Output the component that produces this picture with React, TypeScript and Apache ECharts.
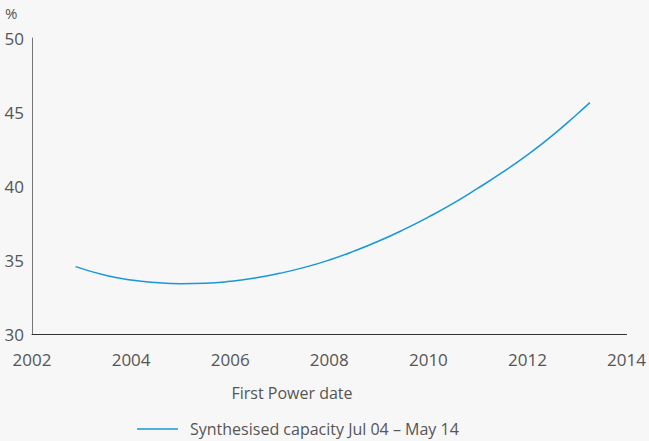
import React, { useEffect, useRef } from "react";
import * as echarts from "echarts";

const years = [2002.88, 2003.5, 2004.0, 2004.5, 2005.0, 2005.5, 2006.0, 2006.5, 2007.0, 2007.5, 2008.0, 2008.5, 2009.0, 2009.5, 2010.0, 2010.5, 2011.0, 2011.5, 2012.0, 2012.5, 2013.0, 2013.26];
const values = [34.55, 33.95, 33.65, 33.48, 33.4, 33.43, 33.56, 33.78, 34.1, 34.5, 35.0, 35.6, 36.28, 37.05, 37.9, 38.82, 39.85, 40.93, 42.1, 43.4, 44.85, 45.63];
const seriesName = "Synthesised capacity Jul 04 \u2013 May 14";
const xTitle = "First Power date";
const yUnit = "%";

const FONT = "'Open Sans', 'Noto Sans', sans-serif";
const TEXT = "#555555";
const LINE = "#1798d8";

export default function App() {
  const ref = useRef<HTMLDivElement>(null);
  useEffect(() => {
    if (!ref.current) return;
    const chart = echarts.init(ref.current, undefined, { renderer: "svg" });
    chart.setOption({
      animation: false,
      backgroundColor: "#f7f7f7",
      textStyle: { fontFamily: FONT },
      grid: { left: 32, right: 18, top: 38, bottom: 107, containLabel: false },
      xAxis: {
        type: "value",
        min: 2002,
        max: 2014,
        interval: 2,
        axisLine: { show: true, lineStyle: { color: "#333333", width: 1 } },
        axisTick: { show: false },
        splitLine: { show: false },
        axisLabel: {
          color: TEXT,
          fontSize: 17,
          margin: 17,
          fontFamily: FONT,
          formatter: (v: number) => String(v),
        },
      },
      yAxis: {
        type: "value",
        min: 30,
        max: 50,
        interval: 5,
        axisLine: { show: true, lineStyle: { color: "#777777", width: 1 } },
        axisTick: { show: false },
        splitLine: { show: false },
        axisLabel: { color: TEXT, fontSize: 17, margin: 8, fontFamily: FONT },
      },
      legend: {
        show: true,
        left: 132,
        top: 416,
        icon: "rect",
        itemWidth: 41,
        itemHeight: 1.5,
        itemStyle: { color: LINE },
        textStyle: { color: TEXT, fontSize: 16, fontFamily: FONT, padding: [0, 0, 0, 7] },
        data: [{ name: seriesName }],
      },
      graphic: [
        {
          type: "text",
          left: 5,
          top: 5,
          style: { text: yUnit, fill: TEXT, font: `15px ${FONT}` },
        },
        {
          type: "text",
          x: 292,
          y: 393,
          style: {
            text: xTitle,
            fill: TEXT,
            font: `16px ${FONT}`,
            align: "center",
            verticalAlign: "middle",
          },
        },
      ],
      series: [
        {
          name: seriesName,
          type: "line",
          smooth: true,
          symbol: "none",
          showSymbol: false,
          lineStyle: { color: LINE, width: 1.5 },
          itemStyle: { color: LINE },
          data: years.map((y, i) => [y, values[i]]),
        },
      ],
    });
    return () => chart.dispose();
  }, []);
  return (
    <div
      ref={ref}
      style={{ position: "absolute", left: 0, top: 0, width: 649, height: 441 }}
    />
  );
}
